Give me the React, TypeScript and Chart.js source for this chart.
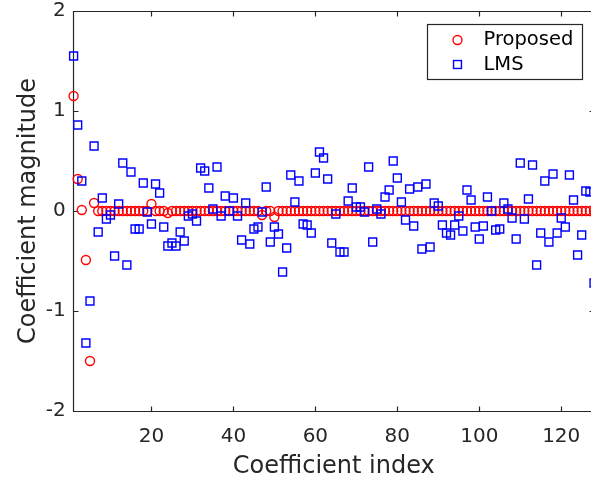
import React, { useEffect, useRef } from "react";
import { Chart, registerables } from "chart.js";

Chart.register(...registerables);

// ---------------- data ----------------
const coefficientIndex: number[] = Array.from({ length: 128 }, (_, i) => i + 1);

const proposedValues: number[] = [
  1.15, 0.32, 0.01, -0.49, -1.5, 0.08, 0, 0, 0, 0,
  0, 0, 0, 0, 0, 0, 0, 0, 0, 0.07,
  0, 0, 0, -0.02, 0, 0, 0, 0, 0, 0,
  0, 0, 0, 0, 0, 0, 0, 0, 0, 0,
  0, 0, 0, 0, 0, 0, -0.04, 0, 0, -0.06,
  0, 0, 0, 0, 0, 0, 0, 0, 0, 0,
  0, 0, 0, 0, 0, 0, 0, 0, 0, 0,
  0, 0, 0, 0, 0, 0, 0, 0, 0, 0,
  0, 0, 0, 0, 0, 0, 0, 0, 0, 0,
  0, 0, 0, 0, 0, 0, 0, 0, 0, 0,
  0, 0, 0, 0, 0, 0, 0, 0, 0, 0,
  0, 0, 0, 0, 0, 0, 0, 0, 0, 0,
  0, 0, 0, 0, 0, 0, 0, 0,
];

const lmsValues: number[] = [
  1.55, 0.86, 0.3, -1.32, -0.9, 0.65, -0.21, 0.13, -0.08, -0.04,
  -0.45, 0.07, 0.48, -0.54, 0.39, -0.18, -0.18, 0.28, -0.01, -0.13,
  0.27, 0.18, -0.16, -0.35, -0.32, -0.35, -0.21, -0.3, -0.05, -0.03,
  -0.1, 0.43, 0.4, 0.23, 0.02, 0.44, -0.05, 0.15, 0.0, 0.13,
  -0.05, -0.29, 0.08, -0.33, -0.18, -0.16, -0.01, 0.24, -0.31, -0.16,
  -0.23, -0.61, -0.37, 0.36, 0.09, 0.3, -0.13, -0.14, -0.22, 0.38,
  0.59, 0.53, 0.32, -0.32, -0.03, -0.41, -0.41, 0.1, 0.23, 0.04,
  0.04, -0.01, 0.44, -0.31, 0.02, -0.03, 0.14, 0.21, 0.5, 0.33,
  0.09, -0.09, 0.22, -0.15, 0.24, -0.38, 0.27, -0.36, 0.08, 0.05,
  -0.14, -0.22, -0.24, -0.14, -0.05, -0.2, 0.21, 0.11, -0.16, -0.28,
  -0.15, 0.14, 0.0, -0.19, -0.18, 0.08, 0.02, -0.07, -0.28, 0.48,
  -0.08, 0.12, 0.46, -0.54, -0.22, 0.3, -0.31, 0.37, -0.22, -0.07,
  -0.16, 0.36, 0.11, -0.44, -0.24, 0.2, 0.19, -0.72,
];

const xTickValues: number[] = [20, 40, 60, 80, 100, 120];
const yTickValues: number[] = [-2, -1, 0, 1, 2];
const seriesLabels: string[] = ["Proposed", "LMS"];
const xTitle = "Coefficient index";
const yTitle = "Coefficient magnitude";

// ---------------- styles ----------------
const FONT = "'DejaVu Sans', Verdana, sans-serif";
const AXIS_COLOR = "#262626";
const RED = "#ff0000";
const BLUE = "#0000ff";
const CIRCLE_R = 4.5;
const RECT_R = 5.6;
const MARKER_LW = 1.4;
const TICK_LEN = 5;

const axesBoxPlugin = {
  id: "axesBox",
  beforeDatasetsDraw(chart: any) {
    const { ctx, chartArea, scales } = chart;
    const { left, right, top, bottom } = chartArea;
    const L = Math.floor(left) + 0.5;
    const R = Math.floor(right) + 0.5;
    const T = Math.floor(top) + 0.5;
    const B = Math.floor(bottom) + 0.5;
    ctx.save();
    ctx.strokeStyle = AXIS_COLOR;
    ctx.lineWidth = 1.2;
    ctx.beginPath();
    ctx.rect(L, T, R - L, B - T);
    for (const v of xTickValues) {
      const px = Math.floor(scales.x.getPixelForValue(v)) + 0.5;
      ctx.moveTo(px, B);
      ctx.lineTo(px, B - TICK_LEN);
      ctx.moveTo(px, T);
      ctx.lineTo(px, T + TICK_LEN);
    }
    for (const v of yTickValues) {
      const py = Math.floor(scales.y.getPixelForValue(v)) + 0.5;
      ctx.moveTo(L, py);
      ctx.lineTo(L + TICK_LEN, py);
      ctx.moveTo(R, py);
      ctx.lineTo(R - TICK_LEN, py);
    }
    ctx.stroke();
    ctx.restore();
  },
};

const legendPlugin = {
  id: "boxLegend",
  afterDraw(chart: any) {
    const { ctx, chartArea } = chart;
    const bw = 155;
    const bh = 55;
    const bx = Math.floor(chartArea.right - 12 - bw) + 0.5;
    const by = Math.floor(chartArea.top + 13) + 0.5;
    ctx.save();
    ctx.fillStyle = "#ffffff";
    ctx.fillRect(bx, by, bw, bh);
    ctx.strokeStyle = AXIS_COLOR;
    ctx.lineWidth = 1.2;
    ctx.strokeRect(bx, by, bw, bh);
    const mx = bx + 30;
    const tx = bx + 56;
    const rows = [by + 15.5, by + 40];
    ctx.font = `19.5px ${FONT}`;
    ctx.textBaseline = "middle";
    ctx.textAlign = "left";
    ctx.lineWidth = MARKER_LW;
    ctx.strokeStyle = RED;
    ctx.beginPath();
    ctx.arc(mx, rows[0], CIRCLE_R, 0, Math.PI * 2);
    ctx.stroke();
    ctx.fillStyle = "#000000";
    ctx.fillText(seriesLabels[0], tx, rows[0]);
    const s = RECT_R * Math.SQRT1_2;
    ctx.strokeStyle = BLUE;
    ctx.strokeRect(mx - s, rows[1] - s, 2 * s, 2 * s);
    ctx.fillText(seriesLabels[1], tx, rows[1]);
    ctx.restore();
  },
};

export default function App() {
  const ref = useRef<HTMLCanvasElement>(null);

  useEffect(() => {
    const canvas = ref.current;
    if (!canvas) return;
    const chart = new Chart(canvas, {
      type: "scatter",
      data: {
        datasets: [
          {
            label: seriesLabels[0],
            data: coefficientIndex.map((x, i) => ({ x, y: proposedValues[i] })),
            pointStyle: "circle",
            pointRadius: CIRCLE_R,
            pointBorderColor: RED,
            pointBackgroundColor: "rgba(0,0,0,0)",
            pointBorderWidth: MARKER_LW,
            borderColor: RED,
            showLine: false,
            clip: false,
            order: 2,
          },
          {
            label: seriesLabels[1],
            data: coefficientIndex.map((x, i) => ({ x, y: lmsValues[i] })),
            pointStyle: "rect",
            pointRadius: RECT_R,
            pointBorderColor: BLUE,
            pointBackgroundColor: "rgba(0,0,0,0)",
            pointBorderWidth: MARKER_LW,
            borderColor: BLUE,
            showLine: false,
            clip: false,
            order: 1,
          },
        ] as any,
      },
      options: {
        responsive: false,
        animation: false,
        events: [],
        layout: { padding: { left: 0, right: 26, top: 11, bottom: 0 } },
        plugins: {
          legend: { display: false },
          tooltip: { enabled: false },
        },
        scales: {
          x: {
            type: "linear",
            min: 1,
            max: 128,
            afterBuildTicks: (s: any) => {
              s.ticks = xTickValues.map((v) => ({ value: v }));
            },
            afterFit: (s: any) => {
              s.height = 72;
              s.paddingLeft = 0;
              s.paddingRight = 0;
            },
            grid: { display: false, drawTicks: false },
            border: { display: false },
            ticks: {
              padding: 14,
              color: AXIS_COLOR,
              font: { family: FONT, size: 20 },
              maxRotation: 0,
              autoSkip: false,
            },
            title: {
              display: true,
              text: xTitle,
              color: AXIS_COLOR,
              font: { family: FONT, size: 24 },
              padding: { top: 0, bottom: 2 },
            },
          },
          y: {
            type: "linear",
            min: -2,
            max: 2,
            afterBuildTicks: (s: any) => {
              s.ticks = yTickValues.map((v) => ({ value: v }));
            },
            afterFit: (s: any) => {
              s.width = 73.6;
              s.paddingTop = 0;
              s.paddingBottom = 0;
            },
            grid: { display: false, drawTicks: false },
            border: { display: false },
            ticks: {
              padding: 8,
              color: AXIS_COLOR,
              font: { family: FONT, size: 20 },
              autoSkip: false,
            },
            title: {
              display: true,
              text: yTitle,
              color: AXIS_COLOR,
              font: { family: FONT, size: 24 },
              padding: { top: 14, bottom: 0 },
            },
          },
        },
      } as any,
      plugins: [axesBoxPlugin, legendPlugin],
    });
    return () => chart.destroy();
  }, []);

  return (
    <div
      style={{
        position: "fixed",
        left: 0,
        top: 0,
        width: 591,
        height: 483,
        overflow: "hidden",
        background: "#ffffff",
      }}
    >
      <canvas ref={ref} width={620} height={483} style={{ display: "block" }} />
    </div>
  );
}
